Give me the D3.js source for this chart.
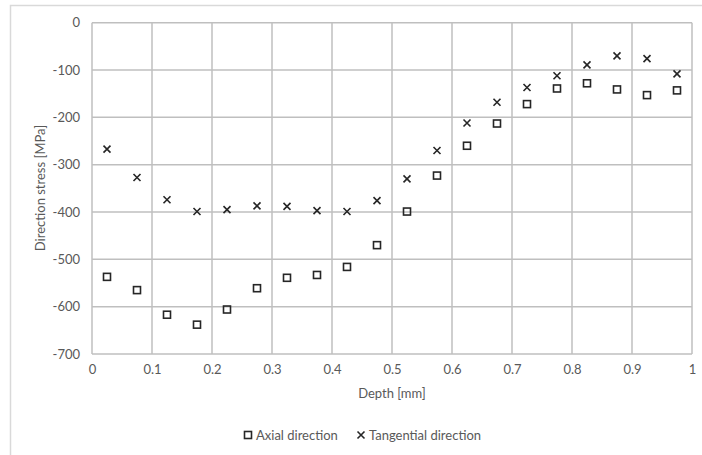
<!DOCTYPE html>
<html>
<head>
<meta charset="utf-8">
<script src="https://cdn.jsdelivr.net/npm/d3@7"></script>
<style>
  body { margin: 0; background: #fff; }
  svg text { font-family: Lato, "Open Sans", sans-serif; fill: #595959; }
</style>
</head>
<body>
<script>
const width = 702;
const height = 455;

// depth positions [mm]
const depth = [0.025, 0.075, 0.125, 0.175, 0.225, 0.275, 0.325, 0.375, 0.425, 0.475,
               0.525, 0.575, 0.625, 0.675, 0.725, 0.775, 0.825, 0.875, 0.925, 0.975];
// stress values [MPa]
const axial = [-537, -565, -617, -638, -606, -561, -539, -533, -516, -470,
               -399, -323, -260, -213, -172, -139, -128, -141, -153, -143];
const tangential = [-267, -327, -374, -399, -395, -387, -388, -397, -399, -376,
                    -330, -270, -212, -168, -137, -112, -89, -70, -76, -108];
const xTicks = [0, 0.1, 0.2, 0.3, 0.4, 0.5, 0.6, 0.7, 0.8, 0.9, 1];
const yTicks = [0, -100, -200, -300, -400, -500, -600, -700];

const plot = {left: 92, right: 692, top: 22.7, bottom: 354};

const xScale = d3.scaleLinear().domain([0, 1]).range([plot.left, plot.right]);
const yScale = d3.scaleLinear().domain([-700, 0]).range([plot.bottom, plot.top]);

const svg = d3.select('body').append('svg')
    .attr('width', width)
    .attr('height', height);

// outer chart frame (only left & top visible in picture)
svg.append('path')
    .attr('d', `M10.5,${height} V5.5 H${width}`)
    .attr('fill', 'none')
    .attr('stroke', '#d9d9d9')
    .attr('stroke-width', 1.5);

// gridlines
const grid = svg.append('g').attr('stroke', '#bfbfbf').attr('stroke-width', 1.5);
grid.selectAll('.vg').data(xTicks).enter().append('line')
    .attr('x1', d => xScale(d)).attr('x2', d => xScale(d))
    .attr('y1', plot.top).attr('y2', plot.bottom);
grid.selectAll('.hg').data(yTicks).enter().append('line')
    .attr('y1', d => yScale(d)).attr('y2', d => yScale(d))
    .attr('x1', plot.left).attr('x2', plot.right);

// axes
const xAxis = d3.axisBottom(xScale).tickValues(xTicks).tickSize(0).tickPadding(11)
    .tickFormat(d => String(d));
svg.append('g')
    .attr('transform', `translate(0, ${plot.bottom})`)
    .call(xAxis)
    .call(g => g.select('.domain').remove())
    .selectAll('text').style('font-size', '13px');

const yAxis = d3.axisLeft(yScale).tickValues(yTicks).tickSize(0).tickPadding(12)
    .tickFormat(d => String(d));
svg.append('g')
    .attr('transform', `translate(${plot.left}, 0)`)
    .call(yAxis)
    .call(g => g.select('.domain').remove())
    .selectAll('text').style('font-size', '13px');

// axis titles
svg.append('text')
    .attr('x', 392)
    .attr('y', 398)
    .attr('text-anchor', 'middle')
    .style('font-size', '13px')
    .text('Depth [mm]');

svg.append('text')
    .attr('transform', 'rotate(-90)')
    .attr('x', -188)
    .attr('y', 45)
    .attr('text-anchor', 'middle')
    .style('font-size', '13px')
    .text('Direction stress [MPa]');

const markColor = '#262626';
const sq = 7;
const xs = 3.5;

function drawSquares(g, pts) {
    g.selectAll('rect').data(pts).enter().append('rect')
        .attr('x', d => xScale(d[0]) - sq / 2)
        .attr('y', d => yScale(d[1]) - sq / 2)
        .attr('width', sq).attr('height', sq)
        .attr('fill', 'none')
        .attr('stroke', markColor)
        .attr('stroke-width', 1.6);
}
function drawCrosses(g, pts) {
    g.selectAll('path').data(pts).enter().append('path')
        .attr('d', d => {
            const cx = xScale(d[0]), cy = yScale(d[1]);
            return `M${cx - xs},${cy - xs}L${cx + xs},${cy + xs}M${cx - xs},${cy + xs}L${cx + xs},${cy - xs}`;
        })
        .attr('stroke', markColor)
        .attr('stroke-width', 1.6)
        .attr('fill', 'none');
}

drawSquares(svg.append('g'), depth.map((d, i) => [d, axial[i]]));
drawCrosses(svg.append('g'), depth.map((d, i) => [d, tangential[i]]));

// legend
const legend = svg.append('g');
legend.append('rect')
    .attr('x', 248 - sq / 2).attr('y', 435 - sq / 2)
    .attr('width', sq).attr('height', sq)
    .attr('fill', 'none').attr('stroke', markColor).attr('stroke-width', 1.6);
legend.append('text')
    .attr('x', 256).attr('y', 440)
    .style('font-size', '13px')
    .text('Axial direction');
legend.append('path')
    .attr('d', `M${361 - xs},${435 - xs}L${361 + xs},${435 + xs}M${361 - xs},${435 + xs}L${361 + xs},${435 - xs}`)
    .attr('stroke', markColor).attr('stroke-width', 1.6);
legend.append('text')
    .attr('x', 369).attr('y', 440)
    .style('font-size', '13px')
    .text('Tangential direction');
</script>
</body>
</html>
